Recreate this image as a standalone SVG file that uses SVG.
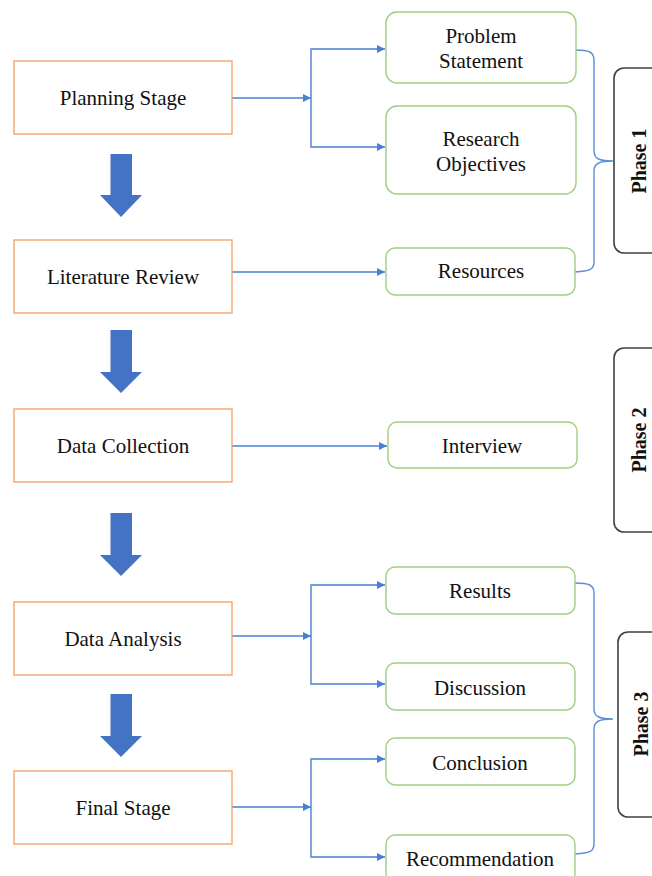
<svg xmlns="http://www.w3.org/2000/svg" width="652" height="876" viewBox="0 0 652 876">
<style>
.stage{fill:#fff;stroke:#F4A56E;stroke-width:1.4}
.sub{fill:#fff;stroke:#9ECF82;stroke-width:1.4}
.phase{fill:#fff;stroke:#404040;stroke-width:1.6}
text{font-family:'Liberation Serif','Times New Roman','DejaVu Serif',serif}
.t{font-size:21px;fill:#111;text-anchor:middle}
.pt{font-size:20px;font-weight:bold;fill:#111;text-anchor:middle}
.con{fill:none;stroke:#4A7FD6;stroke-width:1.4}
.brace{fill:none;stroke:#5B8DDB;stroke-width:1.4}
.big{fill:#4472C4}
</style>
<defs>
<marker id="ah" viewBox="0 0 10 10" refX="10" refY="5" markerWidth="8" markerHeight="8" markerUnits="userSpaceOnUse" orient="auto">
<path d="M0,0 L10,5 L0,10 z" fill="#4A7FD6"/>
</marker>
</defs>
<rect width="652" height="876" fill="#fff"/>

<g id="connectors">
<line class="con" x1="232" y1="98" x2="311" y2="98" marker-end="url(#ah)"/>
<path class="con" d="M311,98 V49 H385" marker-end="url(#ah)"/>
<path class="con" d="M311,98 V147 H385" marker-end="url(#ah)"/>
<line class="con" x1="232" y1="272" x2="385" y2="272" marker-end="url(#ah)"/>
<line class="con" x1="232" y1="446" x2="387" y2="446" marker-end="url(#ah)"/>
<line class="con" x1="232" y1="636" x2="311" y2="636" marker-end="url(#ah)"/>
<path class="con" d="M311,636 V585 H385" marker-end="url(#ah)"/>
<path class="con" d="M311,636 V684 H385" marker-end="url(#ah)"/>
<line class="con" x1="232" y1="807" x2="311" y2="807" marker-end="url(#ah)"/>
<path class="con" d="M311,807 V759 H385" marker-end="url(#ah)"/>
<path class="con" d="M311,807 V857 H385" marker-end="url(#ah)"/>
<path class="brace" d="M575,50 C589,50 594,52 594,60 V151 C594,159 600,161 613,161 C600,161 594,163 594,171 V262 C594,270 589,271 575,272"/>
<path class="brace" d="M575,583 C589,583 594,585 594,593 V709 C594,717 600,719 613,719 C600,719 594,721 594,729 V844 C594,852 589,853 575,854"/>
<polygon class="big" points="110.5,154 132,154 132,195 142,195 121,217 100,195 110.5,195"/>
<polygon class="big" points="110.5,330 132,330 132,372 142,372 121,393 100,372 110.5,372"/>
<polygon class="big" points="110.5,513 132,513 132,555 142,555 121,576 100,555 110.5,555"/>
<polygon class="big" points="110.5,694 132,694 132,736 142,736 121,757 100,736 110.5,736"/>
</g>

<g id="planning"><rect class="stage" x="14" y="61" width="218" height="73"/><text class="t" x="123" y="105">Planning Stage</text></g>
<g id="literature"><rect class="stage" x="14" y="240" width="218" height="73"/><text class="t" x="123" y="284">Literature Review</text></g>
<g id="datacollection"><rect class="stage" x="14" y="409" width="218" height="73"/><text class="t" x="123" y="453">Data Collection</text></g>
<g id="dataanalysis"><rect class="stage" x="14" y="602" width="218" height="73"/><text class="t" x="123" y="646">Data Analysis</text></g>
<g id="finalstage"><rect class="stage" x="14" y="771" width="218" height="73"/><text class="t" x="123" y="815">Final Stage</text></g>

<g id="problem"><rect class="sub" x="386" y="12" width="190" height="71" rx="11"/><text class="t" x="481" y="43">Problem</text><text class="t" x="481" y="68">Statement</text></g>
<g id="objectives"><rect class="sub" x="386" y="106" width="190" height="88" rx="11"/><text class="t" x="481" y="146">Research</text><text class="t" x="481" y="171">Objectives</text></g>
<g id="resources"><rect class="sub" x="386" y="248" width="189" height="47" rx="9"/><text class="t" x="481" y="278">Resources</text></g>
<g id="interview"><rect class="sub" x="388" y="422" width="189" height="46" rx="9"/><text class="t" x="482" y="453">Interview</text></g>
<g id="results"><rect class="sub" x="386" y="567" width="189" height="47" rx="9"/><text class="t" x="480" y="598">Results</text></g>
<g id="discussion"><rect class="sub" x="386" y="663" width="189" height="47" rx="9"/><text class="t" x="480" y="695">Discussion</text></g>
<g id="conclusion"><rect class="sub" x="386" y="738" width="189" height="47" rx="9"/><text class="t" x="480" y="770">Conclusion</text></g>
<g id="recommendation"><rect class="sub" x="386" y="835" width="189" height="47" rx="9"/><text class="t" x="480" y="866">Recommendation</text></g>

<g id="phase1"><rect class="phase" x="614" y="68" width="60" height="185" rx="10"/><text class="pt" transform="translate(646,161) rotate(-90)">Phase 1</text></g>
<g id="phase2"><rect class="phase" x="614" y="348" width="60" height="184" rx="10"/><text class="pt" transform="translate(646,440) rotate(-90)">Phase 2</text></g>
<g id="phase3"><rect class="phase" x="618" y="632" width="60" height="185" rx="10"/><text class="pt" transform="translate(648,724) rotate(-90)">Phase 3</text></g>
</svg>
